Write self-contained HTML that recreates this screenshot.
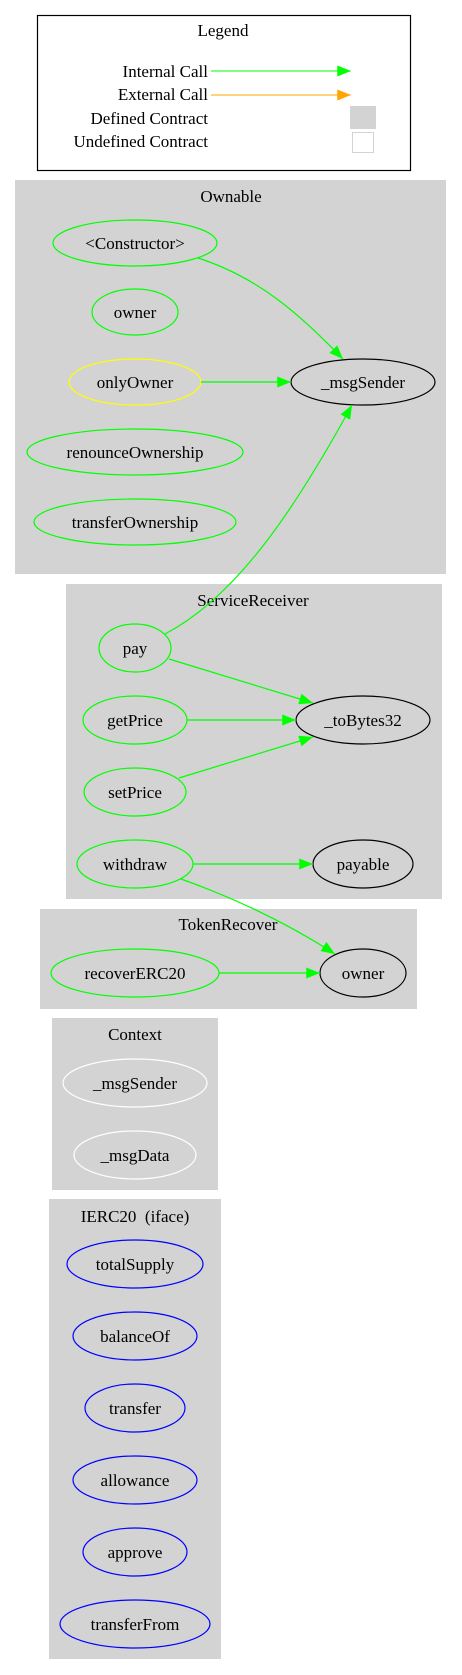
<!DOCTYPE html>
<html><head><meta charset="utf-8"><style>
html,body{margin:0;padding:0;background:#fff}
svg{display:block}
text{font-family:"Liberation Serif",serif;font-size:17px;fill:#000}
</style></head><body>
<svg width="462" height="1675" viewBox="0 0 462 1675" xmlns="http://www.w3.org/2000/svg">
<defs>
<marker id="gA" viewBox="0 0 10 8" markerWidth="15" markerHeight="11" refX="10" refY="4" orient="auto" markerUnits="userSpaceOnUse"><path d="M0,0 L10,4 L0,8 z" fill="#00ff00"/></marker>
<marker id="oA" viewBox="0 0 10 8" markerWidth="15" markerHeight="11" refX="10" refY="4" orient="auto" markerUnits="userSpaceOnUse"><path d="M0,0 L10,4 L0,8 z" fill="#ffa500"/></marker>
</defs>
<!-- Legend -->
<rect x="37.5" y="15.5" width="373" height="155" fill="#fff" stroke="#000" stroke-width="1.2"/>
<text x="223" y="36" text-anchor="middle">Legend</text>
<text x="208" y="77" text-anchor="end">Internal Call</text>
<line x1="211" y1="71" x2="351" y2="71" stroke="#00ff00" marker-end="url(#gA)"/>
<text x="208" y="100" text-anchor="end">External Call</text>
<line x1="211" y1="95" x2="351" y2="95" stroke="#ffa500" marker-end="url(#oA)"/>
<text x="208" y="124" text-anchor="end">Defined Contract</text>
<rect x="350" y="106" width="26" height="23" fill="#d3d3d3"/>
<text x="208" y="147" text-anchor="end">Undefined Contract</text>
<rect x="352.5" y="132.5" width="21" height="20" fill="#fff" stroke="#d3d3d3"/>

<!-- Ownable -->
<rect x="15" y="180" width="431" height="394" fill="#d3d3d3"/>
<text x="231" y="202" text-anchor="middle">Ownable</text>
<g fill="none" stroke-width="1.2">
<ellipse cx="135" cy="243" rx="82" ry="23" stroke="#00ff00"/>
<ellipse cx="135" cy="312" rx="43" ry="23" stroke="#00ff00"/>
<ellipse cx="135" cy="382" rx="66" ry="23" stroke="#ffff00"/>
<ellipse cx="135" cy="452" rx="108" ry="23" stroke="#00ff00"/>
<ellipse cx="135" cy="522" rx="101" ry="23" stroke="#00ff00"/>
<ellipse cx="363" cy="382" rx="72" ry="23" stroke="#000"/>
</g>
<text x="135" y="249" text-anchor="middle">&lt;Constructor&gt;</text>
<text x="135" y="318" text-anchor="middle">owner</text>
<text x="135" y="388" text-anchor="middle">onlyOwner</text>
<text x="135" y="458" text-anchor="middle">renounceOwnership</text>
<text x="135" y="528" text-anchor="middle">transferOwnership</text>
<text x="363" y="388" text-anchor="middle">_msgSender</text>

<!-- ServiceReceiver -->
<rect x="66" y="584" width="376" height="315" fill="#d3d3d3"/>
<text x="253" y="606" text-anchor="middle">ServiceReceiver</text>
<g fill="none" stroke-width="1.2">
<ellipse cx="135" cy="648" rx="36" ry="24" stroke="#00ff00"/>
<ellipse cx="135" cy="720" rx="52" ry="24" stroke="#00ff00"/>
<ellipse cx="135" cy="792" rx="51" ry="24" stroke="#00ff00"/>
<ellipse cx="135" cy="864" rx="58" ry="24" stroke="#00ff00"/>
<ellipse cx="363" cy="720" rx="67" ry="24" stroke="#000"/>
<ellipse cx="363" cy="864" rx="50" ry="24" stroke="#000"/>
</g>
<text x="135" y="654" text-anchor="middle">pay</text>
<text x="135" y="726" text-anchor="middle">getPrice</text>
<text x="135" y="798" text-anchor="middle">setPrice</text>
<text x="135" y="870" text-anchor="middle">withdraw</text>
<text x="363" y="726" text-anchor="middle">_toBytes32</text>
<text x="363" y="870" text-anchor="middle">payable</text>

<!-- TokenRecover -->
<rect x="40" y="909" width="377" height="100" fill="#d3d3d3"/>
<text x="228" y="930" text-anchor="middle">TokenRecover</text>
<g fill="none" stroke-width="1.2">
<ellipse cx="135" cy="973" rx="84" ry="24" stroke="#00ff00"/>
<ellipse cx="363" cy="973" rx="43" ry="24" stroke="#000"/>
</g>
<text x="135" y="979" text-anchor="middle">recoverERC20</text>
<text x="363" y="979" text-anchor="middle">owner</text>

<!-- Context -->
<rect x="52" y="1018" width="166" height="172" fill="#d3d3d3"/>
<text x="135" y="1040" text-anchor="middle">Context</text>
<g fill="none" stroke="#fff" stroke-width="1.2">
<ellipse cx="135" cy="1083" rx="72" ry="24"/>
<ellipse cx="135" cy="1155" rx="61" ry="24"/>
</g>
<text x="135" y="1089" text-anchor="middle">_msgSender</text>
<text x="135" y="1161" text-anchor="middle">_msgData</text>

<!-- IERC20 -->
<rect x="49" y="1199" width="172" height="460" fill="#d3d3d3"/>
<text x="135" y="1222" text-anchor="middle">IERC20 &#160;(iface)</text>
<g fill="none" stroke="#0000ff" stroke-width="1.2">
<ellipse cx="135" cy="1264" rx="68" ry="24"/>
<ellipse cx="135" cy="1336" rx="62" ry="24"/>
<ellipse cx="135" cy="1408" rx="50" ry="24"/>
<ellipse cx="135" cy="1480" rx="62" ry="24"/>
<ellipse cx="135" cy="1552" rx="52" ry="24"/>
<ellipse cx="135" cy="1624" rx="75" ry="24"/>
</g>
<text x="135" y="1270" text-anchor="middle">totalSupply</text>
<text x="135" y="1342" text-anchor="middle">balanceOf</text>
<text x="135" y="1414" text-anchor="middle">transfer</text>
<text x="135" y="1486" text-anchor="middle">allowance</text>
<text x="135" y="1558" text-anchor="middle">approve</text>
<text x="135" y="1630" text-anchor="middle">transferFrom</text>

<!-- Edges -->
<g fill="none" stroke="#00ff00" stroke-width="1.2">
<path d="M198,258 C260,278 300,315 343,359" marker-end="url(#gA)"/>
<path d="M201,382 L291,382" marker-end="url(#gA)"/>
<path d="M165,634 C240,595 300,500 352,405" marker-end="url(#gA)"/>
<path d="M169,659 L313,703" marker-end="url(#gA)"/>
<path d="M187,720 L296,720" marker-end="url(#gA)"/>
<path d="M179,778 L313,737" marker-end="url(#gA)"/>
<path d="M193,864 L313,864" marker-end="url(#gA)"/>
<path d="M181,879 C240,900 290,925 335,954" marker-end="url(#gA)"/>
<path d="M219,973 L320,973" marker-end="url(#gA)"/>
</g>
</svg>
</body></html>
